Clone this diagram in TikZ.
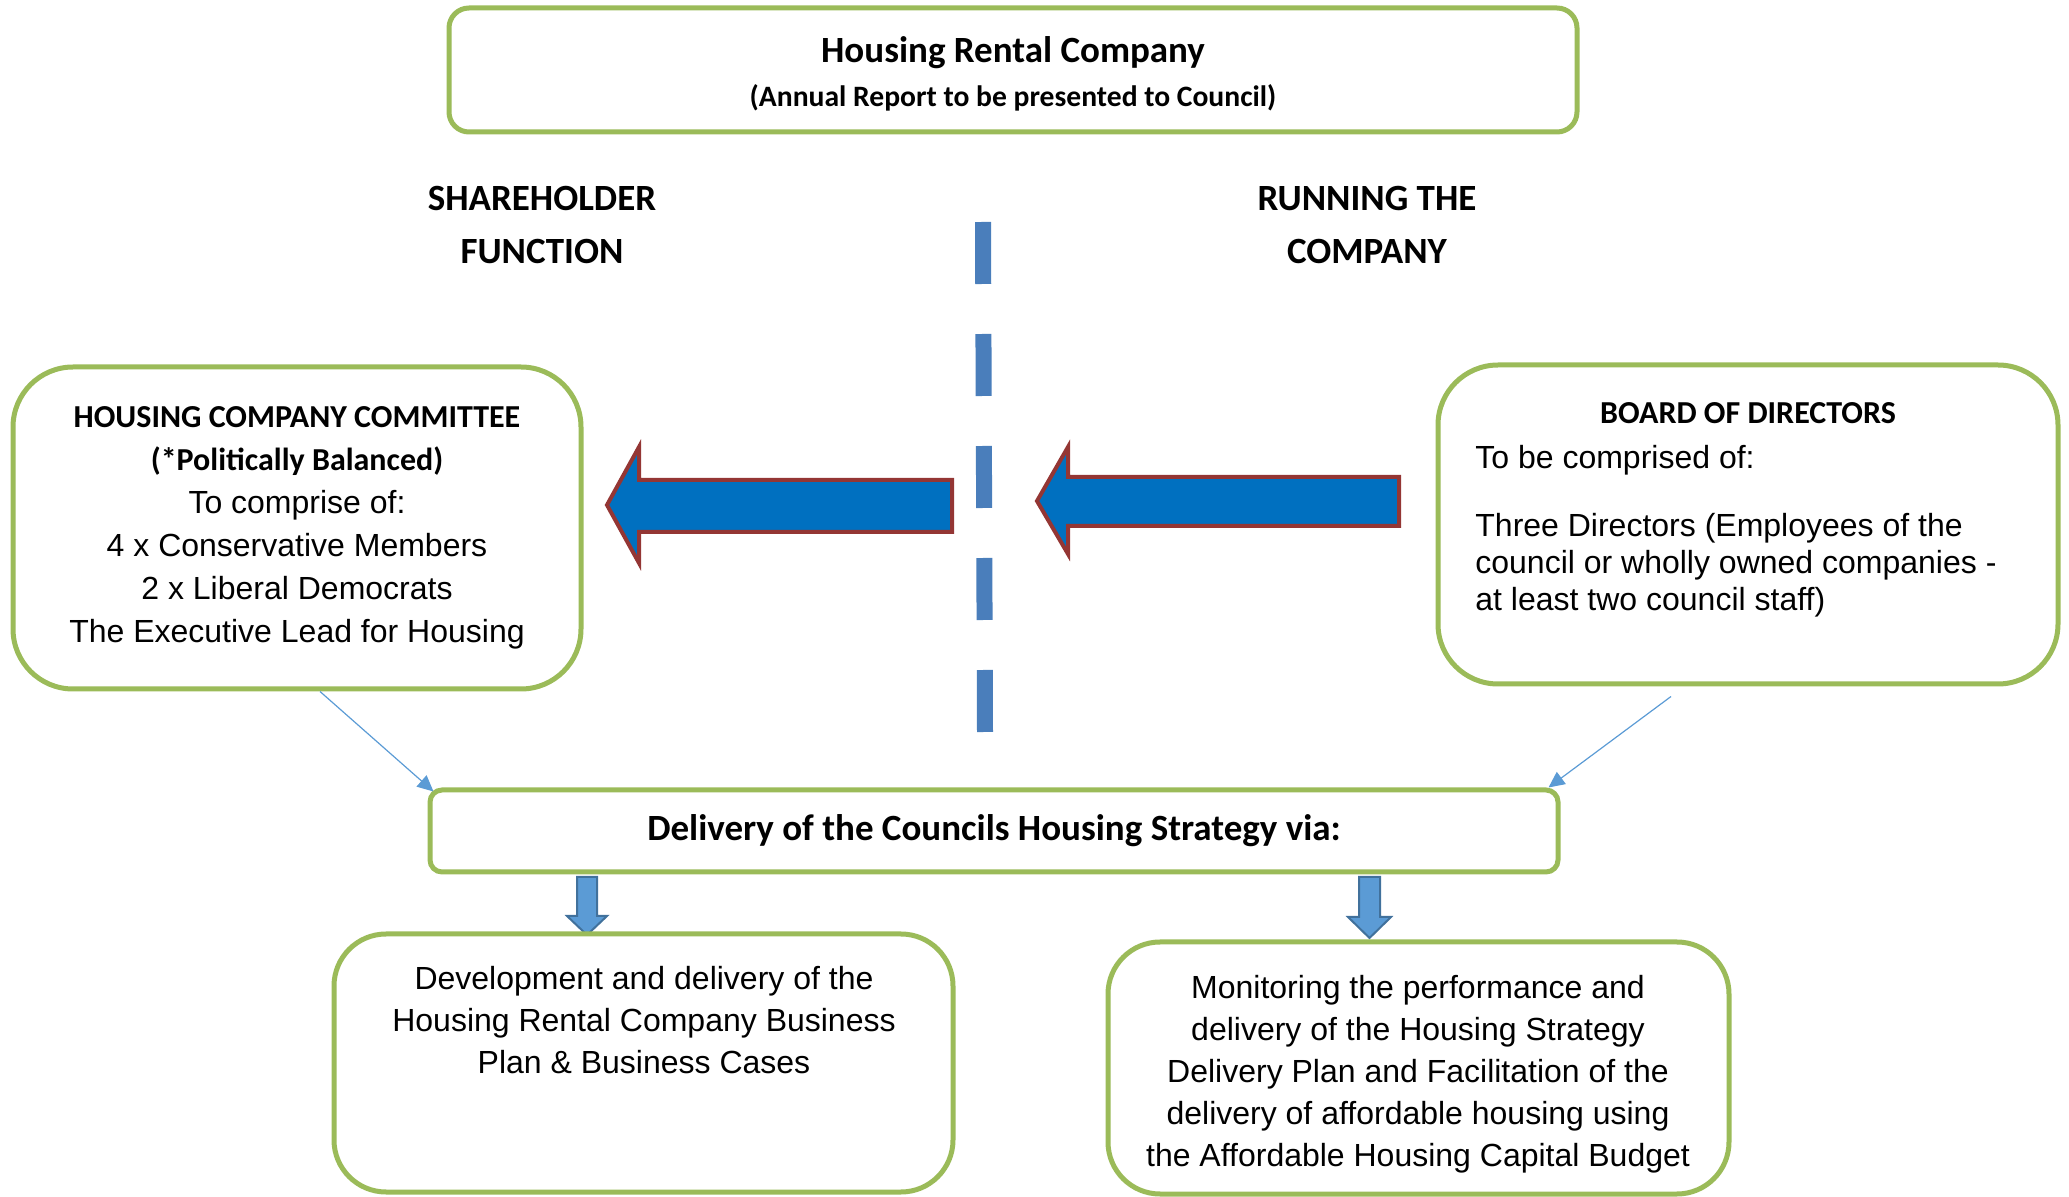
\documentclass[tikz,border=0pt]{standalone}
\usepackage{fontspec}
\setmainfont{Liberation Sans}
\newfontfamily\calibri{Carlito}
\usepackage{tikz}
\usetikzlibrary{arrows.meta, positioning}

\definecolor{boxgreen}{HTML}{9BBB59}
\definecolor{arrowblue}{HTML}{0070C0}
\definecolor{arrowred}{HTML}{943634}
\definecolor{dashblue}{HTML}{4A7EBB}
\definecolor{lightblue}{HTML}{5B9BD5}
\definecolor{darkblue}{HTML}{41719C}

\tikzset{
  greenbox/.style={draw=boxgreen, line width=2.5pt, fill=white, align=center},
  bigarrow/.style={fill=arrowblue, draw=arrowred, line width=2pt, line join=miter},
  smallarrow/.style={fill=lightblue, draw=darkblue, line width=1pt},
  link/.style={-{Triangle[length=8pt,width=7.5pt]}, draw=lightblue, line width=0.6pt},
  heading/.style={font=\calibri\bfseries\fontsize{18.5}{26.5}\selectfont, align=center},
  body/.style={font=\fontsize{16}{21}\selectfont, align=center}
}

\begin{document}
\begin{tikzpicture}[x=0.5pt,y=-0.5pt]
			\useasboundingbox (0,0) rectangle (2069,1197);
			\node[greenbox, rounded corners=10pt, minimum width=564pt, minimum height=62pt] (rental) at (1013,70) {};
			\node[align=center] (rentaltext) at (1013,74)
				{{\calibri\bfseries\fontsize{18.5}{22}\selectfont Housing Rental Company}\\[7pt]
				 {\calibri\bfseries\fontsize{14.8}{17}\selectfont (Annual Report to be presented to Council)}};
			\node[heading] (share)   at (542,225.5)  {SHAREHOLDER\\FUNCTION};
			\node[heading] (running) at (1367,225.5) {RUNNING THE\\COMPANY};
			% divider
			\coordinate (divtop) at (983,222);
			\coordinate (divbot) at (985,732);
			\draw[dashblue, line width=8pt, dash pattern=on 31pt off 25pt] (divtop) -- (divbot);
			% committee and board
			\node[greenbox, body, rounded corners=30pt, minimum width=284pt, minimum height=161pt, font=\fontsize{16}{21.5}\selectfont] (committee) at (297,528)
				{{\calibri\bfseries HOUSING COMPANY COMMITTEE}\\{\calibri\bfseries (*Politically Balanced)}\\To comprise of:\\4 x Conservative Members\\2 x Liberal Democrats\\The Executive Lead for Housing};
			\node[greenbox, rounded corners=30pt, minimum width=310pt, minimum height=159.5pt] (board) at (1748,524.5) {};
			\node[font=\calibri\bfseries\fontsize{16}{20}\selectfont] (boardhead) at (1748,413) {BOARD OF DIRECTORS};
			\node[anchor=north west, align=left, inner sep=0pt, font=\fontsize{16}{18.5}\selectfont] (boardtext) at (1475,445)
				{To be comprised of:\\[15.5pt]Three Directors (Employees of the\\council or wholly owned companies -\\at least two council staff)};
			% big arrows
			\draw[bigarrow] (952,480) -- (639,480) -- (639,447) -- (607,505) -- (639,563) -- (639,532) -- (952,532) -- cycle;
			\draw[bigarrow] (1399,477) -- (1068,477) -- (1068,447) -- (1037,501) -- (1068,554) -- (1068,526) -- (1399,526) -- cycle;
			% delivery
			\node[greenbox, rounded corners=6pt, minimum width=564pt, minimum height=41pt, font=\calibri\bfseries\fontsize{18.5}{22}\selectfont] (delivery) at (994,831)
				{Delivery of the Councils Housing Strategy via:};
			\draw[link] ([xshift=11.5pt]committee.south) -- ([xshift=3pt,yshift=-2pt]delivery.north west);
			\draw[link] ([xshift=-38.5pt,yshift=-5pt]board.south) -- ([xshift=-6pt]delivery.north east);
			\draw[smallarrow] (577,877) -- (597,877) -- (597,916) -- (607,916) -- (587,935) -- (567,916) -- (577,916) -- cycle;
			\draw[smallarrow] (1359,877) -- (1380,877) -- (1380,917) -- (1391,917) -- (1369.5,938) -- (1348,917) -- (1359,917) -- cycle;
			% bottom boxes
			\node[greenbox, rounded corners=26pt, minimum width=309.5pt, minimum height=129pt] (devbox) at (643.5,1063) {};
			\node[body] (devtext) at (644,1020) {Development and delivery of the\\Housing Rental Company Business\\Plan \& Business Cases};
			\node[greenbox, rounded corners=26pt, minimum width=310.5pt, minimum height=126pt] (monitor) at (1418.5,1068) {};
			\node[body] (montext) at (1418,1074)
				{Monitoring the performance and\\delivery of the Housing Strategy\\Delivery Plan and Facilitation of the\\delivery of affordable housing using\\the Affordable Housing Capital Budget};
		\end{tikzpicture}
\end{document}
